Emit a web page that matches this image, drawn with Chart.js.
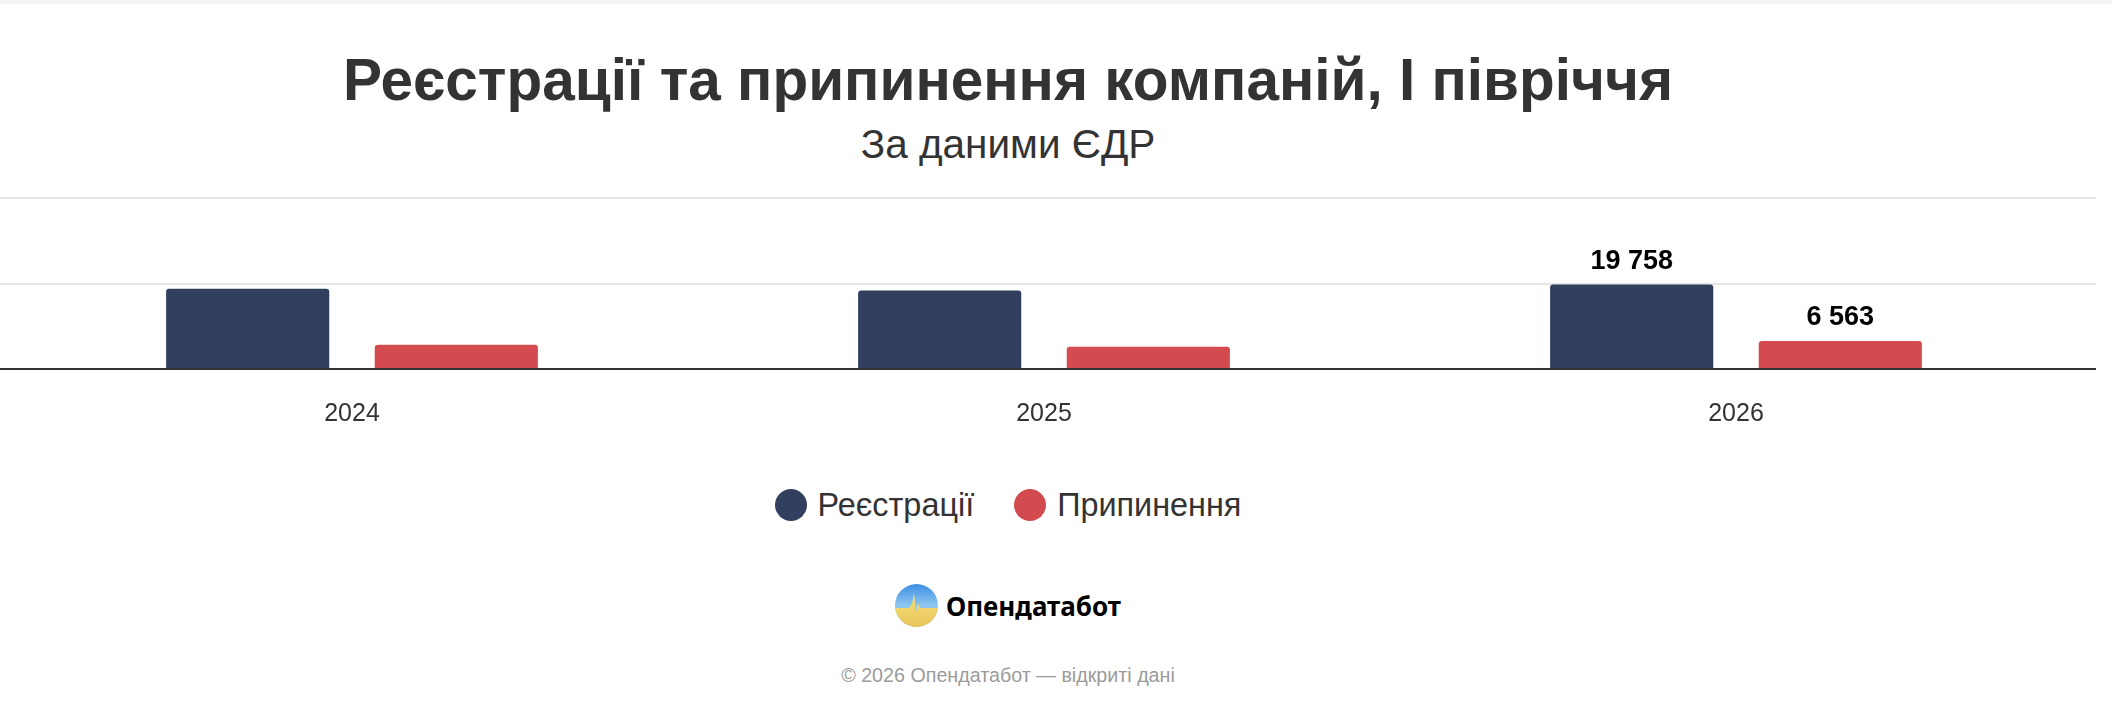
<!DOCTYPE html>
<html lang="uk">
<head>
    <meta charset="UTF-8">
    <title>Реєстрації та припинення компаній</title>
    <script src="https://cdn.jsdelivr.net/npm/chart.js"></script>
    <style>
        html, body { margin: 0; padding: 0; background: #fff; }
        body { width: 2112px; height: 703px; position: relative; overflow: hidden; font-family: 'Liberation Sans', Arial, sans-serif; color: #333; }
        .topband { position: absolute; left: 0; top: 0; width: 2112px; height: 4px; background: #f4f5f7; }
        .centered { position: absolute; left: 0; width: 2016px; text-align: center; line-height: 1; }
        #title { top: 51px; font-size: 58.5px; font-weight: bold; }
        #subtitle { top: 124px; font-size: 40.5px; }
        #chart { position: absolute; left: 0; top: 0; }
        #legend { top: 489px; display: flex; justify-content: center; align-items: center; font-size: 32.4px; }
        #legend .item { display: flex; align-items: center; margin: 0 20px; }
        #legend .dot { width: 32px; height: 32px; border-radius: 50%; margin-right: 11px; }
        #logo { top: 584px; display: flex; justify-content: center; align-items: center; }
        #logo span { font-family: 'Noto Sans', sans-serif; font-weight: 700; font-size: 26px; color: #000; margin-left: 8px; }
        #footer { top: 666px; font-size: 19.7px; color: #9b9b9b; }
    </style>
</head>
<body>
    <div class="topband"></div>
    <div id="title" class="centered">Реєстрації та припинення компаній, I півріччя</div>
    <div id="subtitle" class="centered">За даними ЄДР</div>
    <canvas id="chart" width="2112" height="459"></canvas>
    <div id="legend" class="centered"></div>
    <div id="logo" class="centered">
        <svg width="43" height="43" viewBox="0 0 43 43">
            <defs>
                <linearGradient id="sky" x1="0" y1="0" x2="0" y2="1">
                    <stop offset="0" stop-color="#3d8fe6"/>
                    <stop offset="0.5" stop-color="#8cc6ee"/>
                </linearGradient>
                <linearGradient id="sun" x1="0" y1="0" x2="0" y2="1">
                    <stop offset="0" stop-color="#f7e07a"/>
                    <stop offset="1" stop-color="#e9c65a"/>
                </linearGradient>
                <clipPath id="round"><circle cx="21.5" cy="21.5" r="21.5"/></clipPath>
            </defs>
            <g clip-path="url(#round)">
                <rect width="43" height="43" fill="url(#sky)"/>
                <path d="M0 24 L14 24 L17 20 L19 9 L21 28 L23 19 L25 24 L43 24 L43 43 L0 43 Z" fill="url(#sun)"/>
            </g>
        </svg>
        <span>Опендатабот</span>
    </div>
    <div id="footer" class="centered">© 2026 Опендатабот — відкриті дані</div>

    <script>
        // Data
        const categories = ['2024', '2025', '2026'];
        const seriesNames = ['Реєстрації', 'Припинення'];
        const registrations = [18800, 18350, 19758];
        const terminations = [5700, 5200, 6563];
        const yTicks = [0, 20000, 40000];
        const labelledPoints = [2]; // only the last half-year has value labels

        const colors = ['#333f5e', '#d44b4f'];

        const fmt = v => String(v).replace(/\B(?=(\d{3})+(?!\d))/g, ' ');

        // HTML legend built from the series
        const legend = document.getElementById('legend');
        seriesNames.forEach((name, i) => {
            legend.insertAdjacentHTML('beforeend',
                `<div class="item"><div class="dot" style="background:${colors[i]}"></div>${name}</div>`);
        });

        // horizontal grid + dark baseline, a bit wider than the plot like the original
        const gridPlugin = {
            id: 'gridLines',
            beforeDatasetsDraw(chart) {
                const ctx = chart.ctx, y = chart.scales.y;
                ctx.save();
                yTicks.forEach(v => {
                    if (v === 0) return;
                    const py = Math.round(y.getPixelForValue(v));
                    ctx.strokeStyle = '#e6e6e6';
                    ctx.lineWidth = 2;
                    ctx.beginPath();
                    ctx.moveTo(0, py);
                    ctx.lineTo(2096, py);
                    ctx.stroke();
                });
                ctx.restore();
            },
            afterDatasetsDraw(chart) {
                const ctx = chart.ctx, y = chart.scales.y;
                const py = Math.round(y.getPixelForValue(0));
                ctx.save();
                ctx.strokeStyle = '#333';
                ctx.lineWidth = 2;
                ctx.beginPath();
                ctx.moveTo(0, py);
                ctx.lineTo(2096, py);
                ctx.stroke();

                // value labels
                ctx.font = 'bold 27px "Liberation Sans", Arial, sans-serif';
                ctx.fillStyle = '#000';
                ctx.textAlign = 'center';
                ctx.textBaseline = 'alphabetic';
                chart.data.datasets.forEach((ds, di) => {
                    const meta = chart.getDatasetMeta(di);
                    labelledPoints.forEach(idx => {
                        const bar = meta.data[idx];
                        ctx.fillText(fmt(ds.data[idx]), bar.x, bar.y - 16);
                    });
                });
                ctx.restore();
            }
        };

        const ctx = document.getElementById('chart').getContext('2d');
        const chart = new Chart(ctx, {
            type: 'bar',
            data: {
                labels: categories,
                datasets: [
                    { label: seriesNames[0], data: registrations, backgroundColor: colors[0] },
                    { label: seriesNames[1], data: terminations, backgroundColor: colors[1] }
                ]
            },
            options: {
                responsive: false,
                animation: false,
                devicePixelRatio: 1,
                layout: { padding: { top: 198, left: 6, right: 30, bottom: 0 } },
                datasets: {
                    bar: {
                        categoryPercentage: 0.603,
                        barPercentage: 0.782,
                        borderRadius: { topLeft: 3, topRight: 3, bottomLeft: 0, bottomRight: 0 },
                        borderSkipped: 'start'
                    }
                },
                plugins: {
                    legend: { display: false },
                    tooltip: { enabled: false }
                },
                scales: {
                    x: {
                        grid: { display: false, drawTicks: false },
                        border: { display: false },
                        ticks: {
                            color: '#333',
                            padding: 30,
                            font: { size: 25, family: "'Liberation Sans', Arial, sans-serif" }
                        }
                    },
                    y: {
                        display: false,
                        min: 0,
                        max: 40000
                    }
                }
            },
            plugins: [gridPlugin]
        });
    </script>
</body>
</html>
